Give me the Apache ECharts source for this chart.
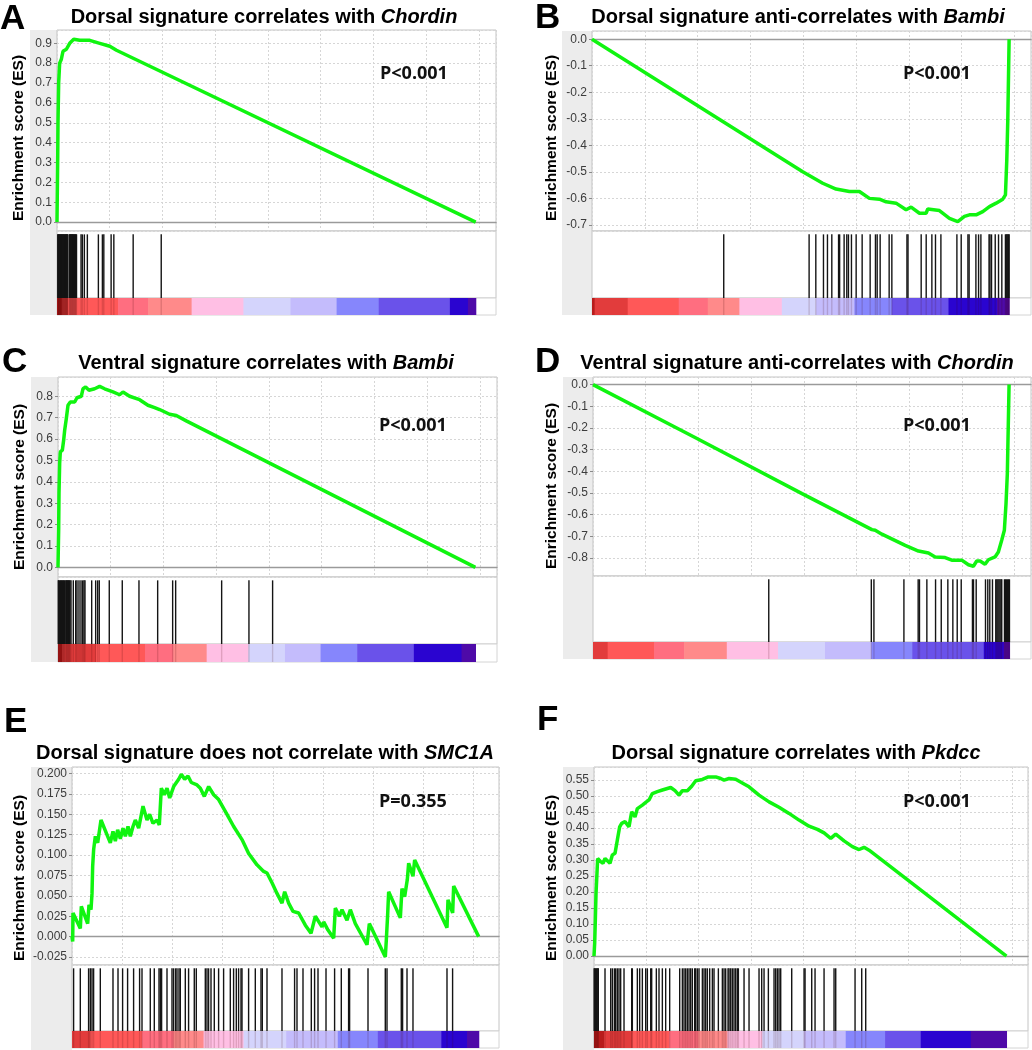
<!DOCTYPE html>
<html>
<head>
<meta charset="utf-8">
<script src="https://cdn.jsdelivr.net/npm/echarts@6/dist/echarts.min.js"></script>
<style>
html, body { margin: 0; padding: 0; background: #fff; }
#main { width: 1032px; height: 1050px; }
</style>
</head>
<body>
<div id="main"></div>
<script>
// running enrichment score, [gene rank, ES]
var curveA = [[0,0],[25,0.3],[38,0.5],[63,0.7],[101,0.8],[165,0.82],[228,0.86],[355,0.87],[481,0.9],[634,0.92],[862,0.915],[1242,0.915],[1622,0.9],[2002,0.885],[2255,0.865],[15875,0]];
var curveB = [[0,0],[7982,-0.5],[8740,-0.543],[9245,-0.565],[9750,-0.574],[10129,-0.574],[10508,-0.6],[10887,-0.603],[11140,-0.613],[11518,-0.618],[11897,-0.643],[12087,-0.633],[12403,-0.656],[12655,-0.656],[12719,-0.64],[13160,-0.646],[13539,-0.675],[13855,-0.688],[14108,-0.668],[14297,-0.662],[14550,-0.662],[14802,-0.65],[15055,-0.631],[15308,-0.618],[15560,-0.603],[15661,-0.587],[15712,-0.455],[15750,-0.304],[15800,0]];
var curveC = [[0,0],[25,0.175],[38,0.346],[63,0.486],[88,0.54],[164,0.548],[215,0.595],[253,0.641],[316,0.696],[379,0.758],[467,0.773],[632,0.773],[720,0.793],[884,0.8],[947,0.835],[1048,0.843],[1175,0.828],[1389,0.835],[1579,0.846],[1768,0.835],[2084,0.82],[2337,0.807],[2463,0.82],[2715,0.8],[3094,0.784],[3410,0.758],[3663,0.747],[3852,0.738],[4231,0.716],[4484,0.71],[4863,0.685],[15825,0]];
var curveD = [[0,0],[3890,-0.245],[7932,-0.503],[10584,-0.669],[10710,-0.672],[10963,-0.69],[11847,-0.742],[12352,-0.768],[12731,-0.777],[12984,-0.795],[13363,-0.798],[13615,-0.81],[13994,-0.81],[14247,-0.831],[14436,-0.838],[14562,-0.814],[14689,-0.814],[14878,-0.829],[15004,-0.808],[15257,-0.795],[15383,-0.772],[15510,-0.718],[15611,-0.672],[15674,-0.549],[15724,-0.411],[15790,0]];
var curveE = [[0,0],[27,-0.006],[40,0.029],[66,0.029],[332,0.010],[372,0.037],[624,0.016],[677,0.039],[757,0.033],[797,0.053],[823,0.086],[863,0.107],[930,0.123],[1023,0.115],[1155,0.143],[1527,0.115],[1633,0.129],[1726,0.117],[1819,0.131],[1926,0.12],[2032,0.133],[2125,0.123],[2231,0.135],[2324,0.123],[2430,0.135],[2523,0.143],[2656,0.133],[2829,0.16],[2988,0.143],[3094,0.15],[3227,0.139],[3386,0.143],[3479,0.137],[3559,0.182],[3679,0.174],[3785,0.182],[3891,0.17],[4050,0.184],[4250,0.193],[4356,0.199],[4489,0.193],[4621,0.197],[4754,0.189],[4980,0.186],[5113,0.182],[5272,0.172],[5445,0.184],[5644,0.174],[5843,0.168],[6175,0.15],[6441,0.135],[6773,0.119],[7038,0.102],[7370,0.088],[7636,0.08],[7769,0.078],[7968,0.066],[8167,0.053],[8366,0.041],[8473,0.055],[8632,0.041],[8805,0.031],[9030,0.029],[9296,0.014],[9522,0.004],[9694,0.025],[9960,0.012],[10026,0.018],[10199,0.008],[10425,-0.002],[10491,0.035],[10651,0.025],[10757,0.033],[10956,0.020],[11089,0.033],[11288,0.016],[11753,-0.01],[11846,0.016],[12483,-0.025],[12523,-0.004],[12576,0.027],[12616,0.055],[13081,0.023],[13147,0.059],[13253,0.049],[13359,0.070],[13413,0.090],[13585,0.074],[13652,0.094],[14940,0.011],[14980,0.045],[15166,0.029],[15206,0.062],[16202,0]];
var curveF = [[0,0],[26,0.04],[51,0.113],[77,0.196],[102,0.238],[140,0.305],[255,0.295],[344,0.29],[421,0.305],[612,0.29],[701,0.316],[803,0.321],[893,0.363],[982,0.404],[1058,0.415],[1186,0.42],[1339,0.404],[1441,0.451],[1568,0.435],[1658,0.461],[1849,0.472],[2002,0.482],[2104,0.488],[2231,0.508],[2423,0.514],[2614,0.519],[2933,0.527],[3098,0.517],[3251,0.503],[3379,0.517],[3570,0.517],[3736,0.531],[3889,0.548],[4144,0.552],[4373,0.56],[4654,0.56],[4845,0.555],[4973,0.55],[5164,0.555],[5419,0.553],[5738,0.538],[5929,0.529],[6311,0.503],[6694,0.482],[7076,0.465],[7459,0.446],[7841,0.425],[8224,0.406],[8543,0.396],[8798,0.385],[9053,0.368],[9244,0.381],[9563,0.36],[9881,0.342],[10136,0.333],[10328,0.34],[10519,0.331],[15772,0]];

// gene set hit ranks
var hitsA = [30,45,60,80,95,115,130,150,170,185,205,225,240,260,280,300,315,335,355,370,390,400,460,480,500,520,540,560,580,600,620,640,660,680,700,720,740,912,961,1037,1151,1569,1721,1775,2052,2155,2888,3952];
var hitsB = [4990,8224,8478,8768,8919,9084,9340,9380,9550,9651,9714,9828,10006,10233,10536,10737,10802,10915,11256,11358,11930,11970,12469,12659,12874,13011,13216,13822,13985,14240,14285,14542,14643,14731,15040,15075,15134,15274,15399,15524,15660,15690,15720,15750,15780,15800];
var hitsC = [11,30,64,90,114,140,165,190,215,239,270,303,330,352,380,406,430,455,493,580,671,720,796,872,936,985,1023,1277,1428,1504,1565,1944,2437,3070,3779,4347,4461,6205,7240,8137];
var hitsD = [6670,10562,10661,11799,12340,12390,12670,13000,13216,13466,13656,13822,13974,14400,14440,14542,14895,14982,15058,15160,15285,15325,15365,15405,15445,15485,15512,15615,15650,15690,15730,15770,15804];
var hitsE = [64,331,661,729,797,861,1128,1633,1833,2016,2215,2454,2693,2789,3119,3279,3466,3518,3570,3785,3984,4048,4127,4183,4263,4315,4514,4645,4872,4952,5311,5378,5442,5538,5669,5841,6040,6307,6438,6546,6637,6733,6773,7036,7303,7530,7582,7769,8366,8868,8964,9203,9534,9665,9801,10120,10462,10729,11020,11060,11793,12482,12550,13119,13171,13347,13585,14940,15163];
var hitsF = [5,30,60,90,120,150,165,421,638,701,778,829,893,956,1020,1148,1441,1466,1658,1747,1849,1976,2040,2168,2206,2384,2486,2614,2741,2894,3277,3379,3443,3506,3570,3634,3698,3761,3851,3889,3953,4016,4144,4208,4271,4335,4424,4526,4590,4756,4909,4973,5036,5126,5164,5228,5291,5355,5419,5483,5521,5738,5929,6311,6413,6503,6668,6885,6949,7013,7076,7140,7561,8033,8071,8326,8453,8798,9180,9244,9983,10238,10391];

// ranked list colour bands: edges (rank) and heat level of each band
var barEdgesA = [0,178,418,2318,3458,5104,7068,8854,10602,12198,14896,15580,15875];
var barLevelsA = [0,1,2,3,4,5,6,7,8,9,10,11];
var barEdgesB = [0,100,1353,3286,4385,5583,7190,8490,9941,11358,13504,15338,15800];
var barLevelsB = [0,1,2,3,4,5,6,7,8,9,10,11];
var barEdgesC = [0,152,1440,3298,4370,5637,7215,8605,9956,11344,13492,15300,15825];
var barLevelsC = [0,1,2,3,4,5,6,7,8,9,10,11];
var barEdgesD = [0,556,2323,3460,5078,7023,8804,10562,12116,14830,15588,15804];
var barLevelsD = [1,2,3,4,5,6,7,8,9,10,11];
var barEdgesE = [0,729,2789,4048,5243,6836,8532,10589,12184,14713,15737,16202];
var barLevelsE = [1,2,3,4,5,6,7,8,9,10,11];
var barEdgesF = [0,383,1466,2869,3991,5100,6439,8033,9626,11131,12495,14408,15772];
var barLevelsF = [0,1,2,3,4,5,6,7,8,9,10,11];

var heatColors = ['#b81c1c','#e23c3c','#ff5858','#ff6e80','#ff8a8a','#ffbfe4','#d4d4fc','#c4bcfc','#8686fc','#6a52ea','#2a04d0','#4e0aa8'];

var panels = [
    {letter: 'A', title: 'Dorsal signature correlates with ', gene: 'Chordin', p: 'P<0.001',
     curve: curveA, hits: hitsA, edges: barEdgesA, levels: barLevelsA,
     yMin: -0.045, yMax: 0.967, step: 0.1, dec: 1, xMax: 16645,
     left: 57, top: 30, width: 439, esH: 201, hitH: 67, barH: 17,
     band: [30, 30, 27, 285], letterPos: [0, 19], titlePos: [264, 17.5], pPos: [380, 73.5], yNamePos: [19, 138]},
    {letter: 'B', title: 'Dorsal signature anti-correlates with ', gene: 'Bambi', p: 'P<0.001',
     curve: curveB, hits: hitsB, edges: barEdgesB, levels: barLevelsB,
     yMin: -0.723, yMax: 0.031, step: 0.1, dec: 1, xMax: 16629,
     left: 592, top: 31, width: 439, esH: 200, hitH: 67, barH: 17,
     band: [562, 31, 30, 284], letterPos: [535, 18], titlePos: [798, 17.5], pPos: [903, 73.5], yNamePos: [552, 138]},
    {letter: 'C', title: 'Ventral signature correlates with ', gene: 'Bambi', p: 'P<0.001',
     curve: curveC, hits: hitsC, edges: barEdgesC, levels: barLevelsC,
     yMin: -0.045, yMax: 0.89, step: 0.1, dec: 1, xMax: 16645,
     left: 58, top: 377, width: 439, esH: 200, hitH: 67, barH: 18,
     band: [31, 377, 27, 285], letterPos: [2, 362], titlePos: [266, 363.5], pPos: [379, 425.5], yNamePos: [20, 487]},
    {letter: 'D', title: 'Ventral signature anti-correlates with ', gene: 'Chordin', p: 'P<0.001',
     curve: curveD, hits: hitsD, edges: barEdgesD, levels: barLevelsD,
     yMin: -0.883, yMax: 0.035, step: 0.1, dec: 1, xMax: 16622,
     left: 593, top: 377, width: 438, esH: 199, hitH: 66, barH: 17,
     band: [563, 377, 30, 282], letterPos: [535, 362], titlePos: [797, 363.5], pPos: [903, 425.5], yNamePos: [552, 486]},
    {letter: 'E', title: 'Dorsal signature does not correlate with ', gene: 'SMC1A', p: 'P=0.355',
     curve: curveE, hits: hitsE, edges: barEdgesE, levels: barLevelsE,
     yMin: -0.0348, yMax: 0.208, step: 0.025, dec: 3, xMax: 17012,
     left: 72, top: 767, width: 427, esH: 198, hitH: 66, barH: 17,
     band: [31, 767, 41, 283], letterPos: [4, 722], titlePos: [265, 753.5], pPos: [379, 801.5], yNamePos: [19.5, 878]},
    {letter: 'F', title: 'Dorsal signature correlates with ', gene: 'Pkdcc', p: 'P<0.001',
     curve: curveF, hits: hitsF, edges: barEdgesF, levels: barLevelsF,
     yMin: -0.028, yMax: 0.591, step: 0.05, dec: 2, xMax: 16597,
     left: 594, top: 767, width: 434, esH: 198, hitH: 66, barH: 17,
     band: [563, 767, 31, 283], letterPos: [537, 720], titlePos: [796, 753.5], pPos: [903, 801.5], yNamePos: [552, 878]}
];

function hitRenderer(color, top) {
    return function (params, api) {
        var a = api.coord([api.value(0), top]);
        var b = api.coord([api.value(0), 0]);
        return {
            type: 'line',
            shape: {x1: a[0], y1: a[1], x2: b[0], y2: b[1]},
            style: {stroke: color, lineWidth: 1.4}
        };
    };
}

function renderBand(params, api) {
    var a = api.coord([api.value(0), 1]);
    var b = api.coord([api.value(1), 0]);
    return {
        type: 'rect',
        shape: {x: a[0], y: a[1], width: b[0] - a[0] + 0.6, height: b[1] - a[1]},
        style: {fill: heatColors[api.value(2)]}
    };
}

var grids = [], xAxes = [], yAxes = [], series = [], graphics = [];
var gridLineStyle = {color: '#d6d6d6', type: [2, 2], width: 1};

panels.forEach(function (p) {
    var g = grids.length;
    // enrichment plot, hit strip, colour bar
    grids.push({left: p.left, top: p.top, width: p.width, height: p.esH, show: true,
        borderColor: '#c4c4c4', borderWidth: 1, backgroundColor: '#fff'});
    grids.push({left: p.left, top: p.top + p.esH, width: p.width, height: p.hitH, show: true,
        borderColor: '#c4c4c4', borderWidth: 1, backgroundColor: '#fff'});
    grids.push({left: p.left, top: p.top + p.esH + p.hitH, width: p.width, height: p.barH, show: true,
        borderColor: '#d4d4d4', borderWidth: 1, backgroundColor: '#fff'});

    xAxes.push({gridIndex: g, type: 'value', min: 0, max: p.xMax, interval: 2000,
        axisLabel: {show: false}, axisTick: {show: false},
        axisLine: {show: true, onZero: true, lineStyle: {color: '#9a9a9a', width: 1.3}},
        splitLine: {show: true, lineStyle: gridLineStyle}});
    yAxes.push({gridIndex: g, type: 'value', min: p.yMin, max: p.yMax,
        minInterval: p.step, maxInterval: p.step, splitNumber: 10,
        axisLine: {show: false},
        axisTick: {show: true, length: 3, lineStyle: {color: '#8a8a8a'}},
        axisLabel: {showMinLabel: false, showMaxLabel: false, margin: 5,
            color: '#3c3c3c', fontSize: 12, fontFamily: 'Liberation Sans',
            formatter: function (v) { return v.toFixed(p.dec); }},
        splitLine: {show: true, lineStyle: gridLineStyle}});

    for (var k = 1; k <= 2; k++) {
        xAxes.push({gridIndex: g + k, type: 'value', min: 0, max: p.xMax, show: false});
        yAxes.push({gridIndex: g + k, type: 'value', min: 0, max: 1, show: false});
    }

    series.push({type: 'line', xAxisIndex: g, yAxisIndex: g, data: p.curve,
        showSymbol: false, silent: true, z: 3,
        lineStyle: {color: '#10f410', width: 3.5}});

    series.push({type: 'custom', xAxisIndex: g + 1, yAxisIndex: g + 1, silent: true,
        data: p.hits.map(function (h) { return [h, 0]; }),
        encode: {x: 0, y: 1},
        renderItem: hitRenderer('#141414', 0.95)});

    var bands = [];
    for (var i = 0; i < p.levels.length; i++) {
        bands.push([p.edges[i], p.edges[i + 1], p.levels[i]]);
    }
    series.push({type: 'custom', xAxisIndex: g + 2, yAxisIndex: g + 2, silent: true,
        data: bands, encode: {x: [0, 1]}, renderItem: renderBand});
    series.push({type: 'custom', xAxisIndex: g + 2, yAxisIndex: g + 2, silent: true, z: 3,
        data: p.hits.map(function (h) { return [h, 0]; }),
        encode: {x: 0, y: 1},
        renderItem: hitRenderer('rgba(60,0,0,0.16)', 1)});

    // grey band behind the y axis labels
    graphics.push({type: 'rect', z: -1, shape: {x: p.band[0], y: p.band[1], width: p.band[2], height: p.band[3]},
        style: {fill: '#ececec'}});
    graphics.push({type: 'text', x: p.letterPos[0], y: p.letterPos[1],
        style: {text: p.letter, align: 'left', verticalAlign: 'middle',
            fontSize: 35, fontWeight: 'bold', fontFamily: 'Liberation Sans', fill: '#000'}});
    graphics.push({type: 'text', x: p.titlePos[0], y: p.titlePos[1],
        style: {text: '{n|' + p.title + '}{i|' + p.gene + '}', align: 'center', verticalAlign: 'middle',
            rich: {
                n: {fontSize: 20, fontWeight: 'bold', fontFamily: 'Liberation Sans', fill: '#000'},
                i: {fontSize: 20, fontWeight: 'bold', fontStyle: 'italic', fontFamily: 'Liberation Sans', fill: '#000'}
            }}});
    graphics.push({type: 'text', x: p.pPos[0], y: p.pPos[1], z: 10,
        style: {text: p.p, align: 'left', verticalAlign: 'middle',
            fontSize: 18, fontWeight: 'bold', fontFamily: 'Open Sans', fill: '#111'}});
    graphics.push({type: 'text', x: p.yNamePos[0], y: p.yNamePos[1], rotation: Math.PI / 2,
        style: {text: 'Enrichment score (ES)', align: 'center', verticalAlign: 'middle',
            fontSize: 15.5, fontWeight: 'bold', fontFamily: 'Liberation Sans', fill: '#000'}});
});

var chart = echarts.init(document.getElementById('main'), null, {renderer: 'canvas'});
chart.setOption({
    animation: false,
    backgroundColor: '#fff',
    grid: grids,
    xAxis: xAxes,
    yAxis: yAxes,
    series: series,
    graphic: {elements: graphics}
});
</script>
</body>
</html>
